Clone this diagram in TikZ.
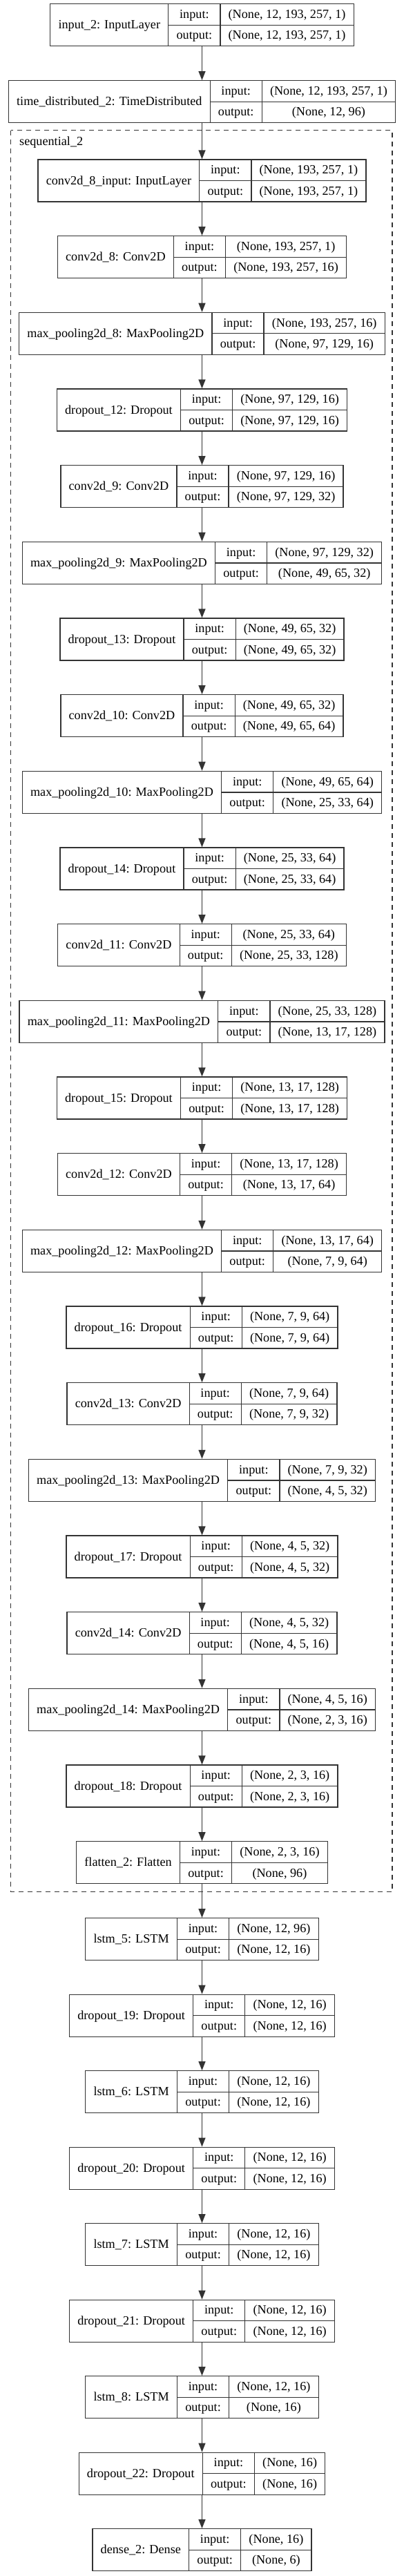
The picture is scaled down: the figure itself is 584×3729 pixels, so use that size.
\documentclass[tikz,border=0pt]{standalone}
\usepackage{fontspec}
\setmainfont{Liberation Serif}
\usetikzlibrary{arrows.meta}
\newcommand\nf{\fontsize{18.2pt}{22pt}\selectfont}
\newlength\kwA \newlength\kwB \newlength\kwC \newlength\kwM
\newcommand\kpad{23.5}
\newcommand\kx{292.5}
\makeatletter
\let\stripPt\strip@pt
\makeatother
\tikzset{
  layerbox/.style={rectangle, draw=black!80, line width=1.3pt, minimum height=61pt, inner sep=0pt},
  cellline/.style={draw=black!80, line width=1.3pt},
  txt/.style={font=\nf, anchor=base, inner sep=0pt, text=black},
  conn/.style={draw=black!80, line width=1.5pt, -{Triangle[length=13pt,width=10pt]}},
  clusterline/.style={draw=black!80, line width=1.2pt, dash pattern=on 7pt off 6pt},
}
% first pass: measure texts (outside the picture)
\newcommand\measure[5]{%
  \settowidth{\kwA}{\nf #3}%
  \settowidth{\kwB}{\nf #4}%
  \settowidth{\kwC}{\nf #5}%
  \ifdim\kwC>\kwB \kwB=\kwC\fi
  \expandafter\xdef\csname kN@#1\endcsname{\stripPt\kwA}%
  \expandafter\xdef\csname kV@#1\endcsname{\stripPt\kwB}%
}
% second pass: draw
\newcommand\layer[5]{%
  \pgfmathsetmacro\kN{\csname kN@#1\endcsname+\kpad}%
  \pgfmathsetmacro\kV{\csname kV@#1\endcsname+\kpad}%
  \pgfmathsetmacro\kM{\kMw+\kpad}%
  \pgfmathsetmacro\kW{\kN+\kM+\kV}%
  \pgfmathsetmacro\kL{\kx-\kW/2}%
  \pgfmathsetmacro\kT{#2}%
  \pgfmathsetmacro\kA{\kL+\kN}%
  \pgfmathsetmacro\kB{\kA+\kM}%
  \pgfmathsetmacro\kR{\kB+\kV}%
  \node[layerbox, minimum width=\kW pt] (#1) at (\kx,\kT+30.5) {};
  \draw[cellline] (\kA,\kT) -- (\kA,\kT+61) (\kB,\kT) -- (\kB,\kT+61) (\kA,\kT+30.5) -- (\kR,\kT+30.5);
  \node[txt] (#1-name) at (\kL+\kN/2,\kT+36) {#3};
  \node[txt] (#1-inl) at (\kA+\kM/2,\kT+20.75) {input:};
  \node[txt] (#1-outl) at (\kA+\kM/2,\kT+51.25) {output:};
  \node[txt] (#1-inv) at (\kB+\kV/2,\kT+20.75) {#4};
  \node[txt] (#1-outv) at (\kB+\kV/2,\kT+51.25) {#5};
}
\newcommand\alllayers{%
\L{in2}{5.7}{input\_2: InputLayer}{(None, 12, 193, 257, 1)}{(None, 12, 193, 257, 1)}%
\L{td}{116.7}{time\_distributed\_2: TimeDistributed}{(None, 12, 193, 257, 1)}{(None, 12, 96)}%
\L{cin}{231+0*110.67}{conv2d\_8\_input: InputLayer}{(None, 193, 257, 1)}{(None, 193, 257, 1)}%
\L{c8}{231+1*110.67}{conv2d\_8: Conv2D}{(None, 193, 257, 1)}{(None, 193, 257, 16)}%
\L{m8}{231+2*110.67}{max\_pooling2d\_8: MaxPooling2D}{(None, 193, 257, 16)}{(None, 97, 129, 16)}%
\L{d12}{231+3*110.67}{dropout\_12: Dropout}{(None, 97, 129, 16)}{(None, 97, 129, 16)}%
\L{c9}{231+4*110.67}{conv2d\_9: Conv2D}{(None, 97, 129, 16)}{(None, 97, 129, 32)}%
\L{m9}{231+5*110.67}{max\_pooling2d\_9: MaxPooling2D}{(None, 97, 129, 32)}{(None, 49, 65, 32)}%
\L{d13}{231+6*110.67}{dropout\_13: Dropout}{(None, 49, 65, 32)}{(None, 49, 65, 32)}%
\L{c10}{231+7*110.67}{conv2d\_10: Conv2D}{(None, 49, 65, 32)}{(None, 49, 65, 64)}%
\L{m10}{231+8*110.67}{max\_pooling2d\_10: MaxPooling2D}{(None, 49, 65, 64)}{(None, 25, 33, 64)}%
\L{d14}{231+9*110.67}{dropout\_14: Dropout}{(None, 25, 33, 64)}{(None, 25, 33, 64)}%
\L{c11}{231+10*110.67}{conv2d\_11: Conv2D}{(None, 25, 33, 64)}{(None, 25, 33, 128)}%
\L{m11}{231+11*110.67}{max\_pooling2d\_11: MaxPooling2D}{(None, 25, 33, 128)}{(None, 13, 17, 128)}%
\L{d15}{231+12*110.67}{dropout\_15: Dropout}{(None, 13, 17, 128)}{(None, 13, 17, 128)}%
\L{c12}{231+13*110.67}{conv2d\_12: Conv2D}{(None, 13, 17, 128)}{(None, 13, 17, 64)}%
\L{m12}{231+14*110.67}{max\_pooling2d\_12: MaxPooling2D}{(None, 13, 17, 64)}{(None, 7, 9, 64)}%
\L{d16}{231+15*110.67}{dropout\_16: Dropout}{(None, 7, 9, 64)}{(None, 7, 9, 64)}%
\L{c13}{231+16*110.67}{conv2d\_13: Conv2D}{(None, 7, 9, 64)}{(None, 7, 9, 32)}%
\L{m13}{231+17*110.67}{max\_pooling2d\_13: MaxPooling2D}{(None, 7, 9, 32)}{(None, 4, 5, 32)}%
\L{d17}{231+18*110.67}{dropout\_17: Dropout}{(None, 4, 5, 32)}{(None, 4, 5, 32)}%
\L{c14}{231+19*110.67}{conv2d\_14: Conv2D}{(None, 4, 5, 32)}{(None, 4, 5, 16)}%
\L{m14}{231+20*110.67}{max\_pooling2d\_14: MaxPooling2D}{(None, 4, 5, 16)}{(None, 2, 3, 16)}%
\L{d18}{231+21*110.67}{dropout\_18: Dropout}{(None, 2, 3, 16)}{(None, 2, 3, 16)}%
\L{fl}{231+22*110.67}{flatten\_2: Flatten}{(None, 2, 3, 16)}{(None, 96)}%
\L{l5}{2776.7+0*110.5}{lstm\_5: LSTM}{(None, 12, 96)}{(None, 12, 16)}%
\L{d19}{2776.7+1*110.5}{dropout\_19: Dropout}{(None, 12, 16)}{(None, 12, 16)}%
\L{l6}{2776.7+2*110.5}{lstm\_6: LSTM}{(None, 12, 16)}{(None, 12, 16)}%
\L{d20}{2776.7+3*110.5}{dropout\_20: Dropout}{(None, 12, 16)}{(None, 12, 16)}%
\L{l7}{2776.7+4*110.5}{lstm\_7: LSTM}{(None, 12, 16)}{(None, 12, 16)}%
\L{d21}{2776.7+5*110.5}{dropout\_21: Dropout}{(None, 12, 16)}{(None, 12, 16)}%
\L{l8}{2776.7+6*110.5}{lstm\_8: LSTM}{(None, 12, 16)}{(None, 16)}%
\L{d22}{2776.7+7*110.5}{dropout\_22: Dropout}{(None, 16)}{(None, 16)}%
\L{de}{2776.7+8*110.5}{dense\_2: Dense}{(None, 16)}{(None, 6)}%
}
\begin{document}
\settowidth{\kwM}{\nf output:}%
\xdef\kMw{\stripPt\kwM}%
\let\L\measure
\alllayers
\begin{tikzpicture}[x=1pt,y=-1pt]
\path[fill=white,use as bounding box] (0,0) rectangle (584,3729);
\draw[clusterline] (15.5,188.5) rectangle (568,2738.3);
\node[font=\nf, anchor=base west, inner sep=0pt] (seqlabel) at (28,210.5) {sequential\_2};
\let\L\layer
\alllayers
\foreach \a/\b in {in2/td, td/cin, cin/c8, c8/m8, m8/d12, d12/c9, c9/m9, m9/d13, d13/c10,
  c10/m10, m10/d14, d14/c11, c11/m11, m11/d15, d15/c12, c12/m12, m12/d16, d16/c13,
  c13/m13, m13/d17, d17/c14, c14/m14, m14/d18, d18/fl, fl/l5, l5/d19, d19/l6, l6/d20,
  d20/l7, l7/d21, d21/l8, l8/d22, d22/de}
  \draw[conn] (\a.south) -- (\b.north);
\end{tikzpicture}
\end{document}
